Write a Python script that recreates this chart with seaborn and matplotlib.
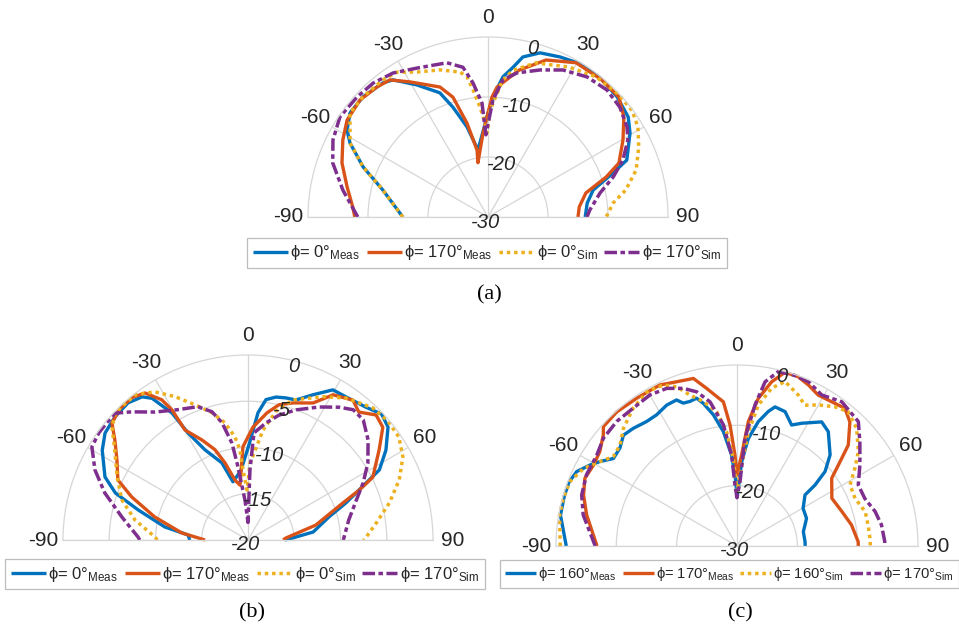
import numpy as np
import matplotlib
matplotlib.use("Agg")
import matplotlib.pyplot as plt
import seaborn as sns

# ---------------- Panel (a): phi = 0 / 170 deg, range -30..0 dB ----------------
a_m0_theta = [-90, -75.6, -68.2, -61.8, -58.3, -53, -46.2, -38.1, -34.7, -28.3, -21.2, -17.7,
              -13.1, -8.5, 0, 3.2, 6.1, 9.5, 12.3, 17.6, 24.2, 30.9, 38.7, 47.1, 54.5, 59.4,
              67.7, 70.6, 75.6, 82, 90]
a_m0_db = [-15.8, -11.9, -7.6, -3.9, -2.4, -1.2, -1.1, -1.6, -2.2, -5.0, -7.8, -10.8,
           -14.6, -18.7, -12.7, -9.3, -6.5, -4.7, -2.7, -1.3, -0.75, -0.2, -0.2, -0.6, -1.3, -2.5,
           -5.0, -7.9, -11.9, -13.3, -13.8]

a_m170_theta = [-90, -85.8, -78, -69.7, -62, -55.5, -47.6, -40.5, -35.6, -30, -20.3, -16.3,
                -12.6, -9.3, -10.5, -3.4, 1.9, 4, 7.5, 11.9, 20.3, 29.7, 39.4, 47.5, 53.7,
                60.3, 67.6, 71.3, 76.2, 83.7, 90]
a_m170_db = [-7.8, -7.4, -6.0, -4.05, -2.6, -1.5, -1.1, -1.5, -1.9, -4.0, -6.9, -9.2,
             -14.0, -18.7, -20.8, -16.0, -10.0, -8.3, -7.0, -5.0, -2.1, -0.4, -0.3, -0.4, -1.9,
             -4.1, -6.4, -9.2, -13.2, -14.7, -15.0]

a_s0_theta = [-90, -75.6, -68.2, -61.8, -53, -46.2, -37.5, -32.1, -26.1, -18.1, -10.9, -8.5,
              -6.7, -4.2, -1.8, -0.7, 1.1, 6.2, 9.7, 17.3, 28.4, 37.6, 46.6, 53.6, 59, 65.1,
              72.4, 78.9, 83.6, 90]
a_s0_db = [-15.8, -11.9, -7.6, -3.9, -1.2, -1.1, -1.2, -1.5, -3.1, -4.2, -5.4, -6.4,
           -8.7, -11.6, -14.3, -16.0, -12.2, -7.0, -5.2, -3.1, -1.6, -0.5, -0.15, -0.15, -0.85, -2.3,
           -4.1, -6.6, -9.0, -10.3]

a_s170_theta = [-90, -79.5, -70.8, -63.6, -55.9, -47.5, -40.6, -33.4, -25.5, -14.9, -9.5, -6.4,
                -3, -1.5, 2.4, 6.2, 11.4, 19.5, 27, 35.3, 43.1, 50.2, 57.1, 61.2, 67.1, 72.3,
                77.9, 86.1, 90]
a_s170_db = [-8.3, -5.4, -2.6, -1.15, -0.2, -0.4, -0.6, -1.25, -2.5, -3.4, -4.7, -7.5,
             -11.0, -16.3, -10.5, -7.0, -5.5, -4.0, -2.5, -1.4, -1.0, -1.4, -2.4, -3.4, -5.6, -8.1,
             -10.9, -13.0, -13.5]

# ---------------- Panel (b): phi = 0 / 170 deg, range -20..0 dB ----------------
b_m0_theta = [-90, -85.2, -81.1, -74.7, -70.5, -66.2, -58.4, -53.2, -47.2, -41.2, -36.5, -34.1,
              -30.9, -29.3, -25.5, -18.7, -14.5, -6, 0.6, 4.5, 7.3, 11.1, 15, 18.9, 24.1, 29.5,
              34.4, 41.6, 46.7, 51.1, 56.9, 61.9, 64.2, 69.3, 74.1, 83, 86.4, 90]
b_m0_db = [-13.7, -13.5, -10.9, -7.7, -4.8, -3.1, -1.5, -0.7, -0.4, -0.3, -0.75, -1.5,
           -4.0, -6.7, -9.2, -11.2, -13.5, -12.5, -9.7, -6.2, -4.7, -4.25, -4.1, -4.0, -2.8, -1.35,
           -1.25, -0.8, -0.15, -0.55, -2.2, -3.9, -5.8, -8.7, -10.9, -12.9, -14.8, -16.0]

b_m170_theta = [-90, -83.9, -76.1, -69.7, -65.2, -58.6, -53.1, -49.3, -44.3, -39, -35, -31.6,
                -30.3, -29.8, -24.7, -20.1, -16.6, -12.2, -8.3, -3.1, 2.5, 8.5, 12.9, 18.2,
                25.4, 30.4, 36.9, 40.9, 45.7, 50.1, 55.5, 63.3, 65.8, 68.7, 77.6, 87, 90]
b_m170_db = [-15.35, -12.8, -9.6, -6.6, -4.5, -3.4, -2.0, -0.6, -0.15, -0.15, -0.6, -2.2,
             -3.7, -6.3, -8.1, -9.6, -11.3, -13.4, -14.0, -9.9, -7.8, -6.1, -5.0, -4.4,
             -3.6, -1.8, -1.1, -1.7, -0.65, -1.0, -2.8, -4.9, -6.8, -9.0, -12.5, -15.9, -16.2]

b_s0_theta = [-90, -88.2, -80, -72.4, -64.3, -55.9, -50.3, -46.3, -42, -37.5, -32.1, -27,
              -21.4, -15.8, -11.1, -7.2, -5.1, -4.1, -1.1, 1.5, 7.8, 12.6, 17.8, 27.7, 34.6,
              43.4, 49.6, 55.7, 61.8, 68.3, 75.3, 82.4, 88.5, 90]
b_s0_db = [-10.2, -9.95, -7.6, -5.7, -4.3, -2.6, -0.9, -0.15, -0.15, -0.15, -1.1, -2.6,
           -4.3, -5.7, -7.1, -8.8, -10.2, -12.4, -14.6, -11.7, -8.0, -5.6, -4.1, -2.5, -1.35,
           -0.35, -0.15, -0.25, -1.0, -2.4, -4.2, -6.0, -7.2, -7.5]

b_s170_theta = [-90, -88.4, -79.7, -71.8, -65.4, -59.2, -54.3, -50, -46.3, -42.2, -36, -28.3,
                -20.6, -15.7, -12.5, -9.4, -8.1, -7.2, -4.3, 0, 1.6, 3.2, 8.7, 13.9, 20.3,
                28.1, 34.4, 38.9, 43.8, 50.2, 57.3, 63.6, 69.7, 78.8, 88.2, 90]
b_s170_db = [-8.3, -8.1, -6.15, -3.7, -1.8, -0.35, -0.15, -0.15, -0.15, -1.3, -2.9, -4.0,
             -4.6, -5.6, -7.0, -9.4, -11.6, -13.1, -15.7, -18.1, -12.4, -8.4, -7.2, -6.1, -5.0,
             -3.7, -2.6, -1.9, -2.0, -3.1, -4.6, -6.1, -7.5, -8.9, -9.6, -9.7]

# ---------------- Panel (c): phi = 160 / 170 deg, range -30..0 dB ----------------
c_m160_theta = [-90, -80.1, -73.9, -69.3, -65.1, -61.1, -58.4, -54.7, -50.1, -45.7, -41.4, -36,
                -31.5, -26.5, -22.5, -20.6, -18, -15.3, -13.3, -10.2, -6.8, -3.4, -1.6, 0,
                1.3, 3.2, 6, 9.7, 13.1, 15.3, 19.7, 24.3, 27.8, 34.3, 38.6, 45.6, 49.8, 52,
                53.1, 60.4, 68.3, 72.8, 77.8, 86.4, 90]
c_m160_db = [-1.7, -0.3, -0.2, -0.2, -0.7, -2.2, -3.3, -4.9, -4.7, -3.7, -4.0, -4.5,
             -4.5, -3.9, -3.8, -4.7, -4.8, -4.6, -5.7, -7.9, -10.9, -14.9, -18.2, -21.5,
             -20.4, -16.0, -12.1, -9.1, -7.1, -6.1, -6.35, -8.0, -7.0, -5.1, -5.75, -8.4, -10.9, -13.6,
             -15.9, -17.4, -17.6, -18.2, -18.75, -18.7, -18.7]

c_m170_theta = [-90, -78.3, -71.6, -66, -60.6, -55.5, -50.3, -48.2, -41.9, -34.2, -25.6, -20.2,
                -14.6, -10.9, -5.4, -3.3, -1.3, 0, 2.9, 5.2, 8.2, 11.9, 15.4, 19.7, 23.9, 28.3,
                33.3, 38.1, 42.3, 47.8, 51.4, 54.4, 63.3, 71.8, 79.6, 88, 90]
c_m170_db = [-6.8, -4.55, -3.2, -2.4, -2.7, -2.4, -1.2, -0.3, -0.15, -0.4, -0.4, -1.0,
             -1.3, -3.4, -6.0, -9.9, -14.9, -18.2, -14.9, -9.3, -5.3, -2.2, -0.15, -0.15, -0.8, -1.6,
             -1.4, -1.0, -2.2, -5.1, -8.5, -10.7, -12.4, -11.7, -10.7, -9.9, -9.9]

c_s160_theta = [-90, -80.2, -74.9, -69, -63.2, -58.4, -54.2, -49.2, -44, -37, -30.3, -24.6,
                -20.7, -17.3, -13.1, -8.6, -5.2, -2.4, -0.9, 0, 3.3, 5.7, 8.6, 12.4, 16.3,
                22.1, 25.7, 30, 35.1, 39.6, 45.5, 52.1, 56.6, 61.6, 68, 75, 80.9, 87.4, 90]
c_s160_db = [-0.7, -0.15, -0.15, -0.3, -1.5, -3.3, -4.7, -4.4, -2.9, -1.4, -0.4, -0.65,
             -1.8, -3.8, -5.4, -7.5, -11.0, -15.5, -19.3, -21.0, -16.55, -11.0, -6.4, -3.2, -1.6,
             -3.0, -4.1, -3.0, -1.8, -1.1, -2.2, -4.5, -6.6, -8.7, -8.9, -8.0, -8.0, -7.9, -7.9]

c_s170_theta = [-90, -78.6, -71.8, -64.7, -57, -51.1, -44, -37, -29.9, -24, -18.8, -14.6,
                -10.6, -6.4, -3.4, -1.9, 0, 2.7, 4.2, 7.3, 9.7, 13.3, 18.4, 23.5, 29.3, 36,
                44.3, 49.7, 56.6, 63.3, 69.6, 76, 81.7, 88.3, 90]
c_s170_db = [-6.5, -4.0, -2.9, -2.4, -2.3, -1.55, -1.3, -1.4, -1.1, -1.4, -2.4, -3.6,
             -5.7, -9.8, -14.9, -19.9, -22.0, -19.3, -12.1, -6.4, -2.4, -0.3, -0.15, -0.3, -1.3, -0.45,
             -1.2, -3.3, -5.6, -7.5, -7.4, -6.4, -5.8, -5.5, -5.5]

# ---------------- Text ----------------
angle_ticks = [-90, -60, -30, 0, 30, 60, 90]
labels_ab = ["ϕ= $\\mathrm{0°}_{\\mathrm{Meas}}$", "ϕ= $\\mathrm{170°}_{\\mathrm{Meas}}$",
             "ϕ= $\\mathrm{0°}_{\\mathrm{Sim}}$", "ϕ= $\\mathrm{170°}_{\\mathrm{Sim}}$"]
labels_c = ["ϕ= $\\mathrm{160°}_{\\mathrm{Meas}}$", "ϕ= $\\mathrm{170°}_{\\mathrm{Meas}}$",
            "ϕ= $\\mathrm{160°}_{\\mathrm{Sim}}$", "ϕ= $\\mathrm{170°}_{\\mathrm{Sim}}$"]
a_rticks = [-30, -20, -10, 0]
b_rticks = [-20, -15, -10, -5, 0]
c_rticks = [-30, -20, -10, 0]

# ---------------- Style ----------------
sns.set_style("white")
plt.rcParams["font.family"] = ["Liberation Sans", "DejaVu Sans"]
plt.rcParams["mathtext.fontset"] = "custom"
plt.rcParams["mathtext.rm"] = "Liberation Sans"
plt.rcParams["mathtext.it"] = "Liberation Sans:italic"
plt.rcParams["mathtext.bf"] = "Liberation Sans:bold"

COLORS = ["#0072BD", "#D95319", "#EDB120", "#7E2F8E"]
STYLES = ["-", "-", (0, (1.0, 1.1)), (0, (3.6, 1.0, 1.3, 1.0))]
WIDTHS = [2.4, 2.4, 2.5, 2.5]
GRID = "#d6d6d6"
TXT = "#262626"

W, H = 959, 632
fig = plt.figure(figsize=(W / 100, H / 100), dpi=100)


def polar_axes(cx, cy, R):
    # The half-disc is drawn centred inside a square box of side 2R,
    # so the disc centre (cx, cy) lies R/2 below the box centre.
    top = cy - 1.5 * R
    rect = [(cx - R) / W, (H - (top + 2 * R)) / H, 2 * R / W, 2 * R / H]
    return fig.add_axes(rect, projection="polar")


def draw_panel(ax, series, rticks, legend_labels, legend_loc, legend_xy, legend_fs):
    rmin = rticks[0]
    handles = []
    for (th, db), col, ls, lw, lab in zip(series, COLORS, STYLES, WIDTHS, legend_labels):
        sns.lineplot(x=np.deg2rad(th), y=db, ax=ax, color=col, linestyle=ls,
                     linewidth=lw, estimator=None, sort=False, legend=False, label=lab)
        line = ax.lines[-1]
        line.set_clip_on(False)
        line.set_solid_capstyle("butt")
        line.set_dash_capstyle("butt")
        handles.append(line)
    ax.set_theta_zero_location("N")
    ax.set_theta_direction(-1)
    ax.set_thetamin(-90)
    ax.set_thetamax(90)
    ax.set_ylim(rmin, 0)
    ax.set_yticks(rticks[1:-1])
    ax.set_yticklabels([])
    ax.set_xticks(np.deg2rad(angle_ticks))
    ax.set_xticklabels([str(a) for a in angle_ticks])
    ax.set_xlabel("")
    ax.set_ylabel("")
    ax.tick_params(axis="x", length=0, pad=7, labelsize=15, labelcolor=TXT)
    ax.tick_params(axis="y", length=0)
    ax.grid(True, color=GRID, linewidth=0.9)
    for sp in ax.spines.values():
        sp.set_color(GRID)
        sp.set_linewidth(0.9)
    for r in rticks:
        ax.annotate(str(r), xy=(np.deg2rad(15), r), xytext=(-2, -5),
                    textcoords="offset pixels", ha="center", va="center",
                    style="italic", fontsize=14.5, color=TXT, zorder=6,
                    annotation_clip=False)
    leg = ax.legend(handles, legend_labels, loc=legend_loc,
                    bbox_to_anchor=(legend_xy[0] / W, 1 - legend_xy[1] / H),
                    bbox_transform=fig.transFigure, ncol=4, frameon=True,
                    fancybox=False, edgecolor="#bdbdbd", framealpha=1,
                    fontsize=legend_fs, handlelength=2.1, handletextpad=0.15,
                    columnspacing=0.4, borderpad=0.35, borderaxespad=0)
    leg.get_frame().set_linewidth(0.9)
    for t in leg.get_texts():
        t.set_color(TXT)


ax_a = polar_axes(488, 217, 180)
draw_panel(ax_a,
           [(a_m0_theta, a_m0_db), (a_m170_theta, a_m170_db),
            (a_s0_theta, a_s0_db), (a_s170_theta, a_s170_db)],
           a_rticks, labels_ab, "center", (487, 253), 12)

ax_b = polar_axes(248, 540, 185)
draw_panel(ax_b,
           [(b_m0_theta, b_m0_db), (b_m170_theta, b_m170_db),
            (b_s0_theta, b_s0_db), (b_s170_theta, b_s170_db)],
           b_rticks, labels_ab, "center", (245, 574), 12)

ax_c = polar_axes(737, 546, 181)
draw_panel(ax_c,
           [(c_m160_theta, c_m160_db), (c_m170_theta, c_m170_db),
            (c_s160_theta, c_s160_db), (c_s170_theta, c_s170_db)],
           c_rticks, labels_c, "center left", (500, 574), 10.6)

for txt, x, y in [("(a)", 489, 295), ("(b)", 252, 613), ("(c)", 740, 613)]:
    fig.text(x / W, 1 - y / H, txt, ha="center", va="center", fontsize=16,
             family="Liberation Serif", color="black")

fig.savefig("out.png", dpi=100, facecolor="white")
